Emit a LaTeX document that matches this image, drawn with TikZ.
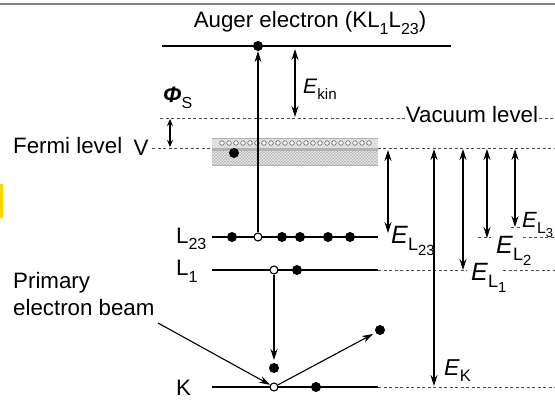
\documentclass[tikz,border=0pt]{standalone}
\usepackage{fontspec}
\setmainfont{Liberation Sans}
\usetikzlibrary{arrows.meta,patterns}
\newcommand\Elab[3]{\fontsize{#1}{#1}\selectfont\textit{E}\raisebox{-0.3em}{\fontsize{0.72\dimexpr#1pt\relax}{10}\selectfont #2\raisebox{-0.25em}{\fontsize{0.82\dimexpr 0.72\dimexpr#1pt\relax\relax}{10}\selectfont #3}}}
\newcommand\sub[1]{\raisebox{-0.3em}{\fontsize{16}{16}\selectfont #1}}
\begin{document}
\begin{tikzpicture}[x=1pt,y=-1pt,
  level/.style={line width=2.4pt},
  dline/.style={gray!60!black, dash pattern=on 3pt off 2.5pt, line width=0.8pt},
  arr/.style={-{Stealth[length=11pt,width=7pt]}, line width=1.1pt},
  darr/.style={{Stealth[length=11pt,width=7pt]}-{Stealth[length=11pt,width=7pt]}, line width=1.1pt},
  sdarr/.style={{Stealth[length=7pt,width=6pt]}-{Stealth[length=7pt,width=6pt]}, line width=1.1pt},
  edot/.style={circle, fill, inner sep=0, minimum size=10pt},
  hdot/.style={circle, draw, fill=white, line width=1.1pt, inner sep=0, minimum size=8pt},
  lbl/.style={font=\fontsize{22.3}{26}\selectfont, inner sep=0}]
\useasboundingbox (0,0) rectangle (555,400);
% frame bits
\draw[gray, line width=1.3pt] (0,4) -- (555,4);
\fill[yellow!75!orange] (0,184) rectangle (2.5,218);

% Auger level
\coordinate (augL) at (162,46);
\coordinate (augR) at (451,46);
\draw[level] (augL) -- (augR);
\node[edot] (adot) at (258,46) {};
\node[lbl] (augtxt) at (310,23) {Auger electron (KL\sub{1}L\sub{23})};

% vacuum level
\coordinate (vac0) at (160,118);
\coordinate (vac1) at (405,118);
\coordinate (vac2) at (539,118);
\coordinate (vac3) at (555,118);
\draw[dline] (vac0) -- (vac1);
\node[lbl] (vactxt) at (472,115) {Vacuum level};
\draw[dline] (vac2) -- (vac3);

% Fermi level
\coordinate (fer0) at (152,148);
\coordinate (fer1) at (555,148);
\draw[dline] (fer0) -- (fer1);
\node[lbl, anchor=west] (fermitxt) at (13,146) {Fermi level};
\node[lbl] (vtxt) at (141,148) {V};

% valence band
\fill[gray!60] (212,138) rectangle (378,166);
\fill[gray!25] (212,139) rectangle (378,147.5);
\foreach \x in {222,229,...,372} \draw[gray!60!black, fill=white, line width=0.5pt] (\x,143) circle (2.3);
\fill[pattern=crosshatch, pattern color=white!85!gray] (212,151) rectangle (378,164);
\draw[gray!60, line width=0.8pt] (212,138) -- (378,138);
\node[edot] (vdot) at (234,153) {};

% Phi_S
\coordinate (phiA) at (170,119);
\coordinate (phiB) at (170,147);
\draw[sdarr] (phiA) -- (phiB);
\node[lbl, anchor=west] (phitxt) at (163,98) {\textbf{\textit{Φ}}\sub{S}};

% core levels
\coordinate (l23a) at (212,237); \coordinate (l23b) at (378,237);
\coordinate (l1a) at (212,270);  \coordinate (l1b) at (378,270);
\coordinate (ka) at (212,387);   \coordinate (kb) at (378,387);
\draw[level] (l23a) -- (l23b);
\draw[level] (l1a) -- (l1b);
\draw[level] (ka) -- (kb);
\node[lbl, anchor=west] (l23txt) at (176,239) {L\sub{23}};
\node[lbl, anchor=west] (l1txt) at (176,271) {L\sub{1}};
\node[lbl, anchor=west] (ktxt) at (176,388) {K};

% electrons L23
\node[edot] (e1) at (232,237) {};
\node[hdot] (l23o) at (258,237) {};
\node[edot] (e2) at (282,237) {};
\node[edot] (e3) at (300,237) {};
\node[edot] (e4) at (328,237) {};
\node[edot] (e5) at (350,237) {};
% L1
\node[hdot] (l1o) at (274,270) {};
\node[edot] (e6) at (297,270) {};
% K
\node[edot] (e7) at (316,387) {};
\node[edot] (kfill) at (274,368) {};
\node[hdot] (ko) at (274,387) {};
\node[edot] (out) at (380,330) {};

% dashed extensions
\coordinate (d1a) at (378,270); \coordinate (d1b) at (467,270);
\coordinate (d1c) at (503,270); \coordinate (d1d) at (555,270);
\draw[dline] (d1a) -- (d1b);
\draw[dline] (d1c) -- (d1d);
\coordinate (dka) at (378,387); \coordinate (dkb) at (555,387);
\draw[dline] (dka) -- (dkb);
\coordinate (dl2a) at (478,237); \coordinate (dl2b) at (491,237);
\draw[dline] (dl2a) -- (dl2b);
\coordinate (dl3a) at (511,227); \coordinate (dl3b) at (521,227);
\draw[dline] (dl3a) -- (dl3b);
\coordinate (dl3c) at (523,237); \coordinate (dl3d) at (555,237);
\draw[dline] (dl3c) -- (dl3d);

% Auger transition arrows
\draw[arr] (l23o) -- (adot);
\coordinate (kinA) at (295,49); \coordinate (kinB) at (295,117);
\draw[darr] (kinA) -- (kinB);
\node[anchor=base west, inner sep=0] (kintxt) at (303,93) {\Elab{21}{kin}{}};
\coordinate (l1drop) at (274,360);
\draw[arr] (l1o) -- (l1drop);

% primary beam
\node[lbl, anchor=north west, align=left] (beamtxt) at (13,272) {Primary\\[1pt]electron beam};
\coordinate (beam0) at (158,323);
\draw[arr] (beam0) -- (ko);
\coordinate (outtip) at (373,334);
\draw[arr] (ko) -- (outtip);

% binding energies
\coordinate (eL23a) at (388,150); \coordinate (eL23b) at (388,233);
\draw[darr] (eL23a) -- (eL23b);
\node[anchor=base west, inner sep=0] (eL23txt) at (391,243) {\Elab{25}{L}{23}};
\coordinate (eKa) at (434,149); \coordinate (eKb) at (434,386);
\draw[darr] (eKa) -- (eKb);
\node[anchor=base west, inner sep=0] (eKtxt) at (444,375) {\Elab{23}{K}{}};
\coordinate (eL1a) at (463,149); \coordinate (eL1b) at (463,270);
\draw[darr] (eL1a) -- (eL1b);
\node[anchor=base west, inner sep=0] (eL1txt) at (471,280) {\Elab{25}{L}{1}};
\coordinate (eL2a) at (487,149); \coordinate (eL2b) at (487,238);
\draw[darr] (eL2a) -- (eL2b);
\node[anchor=base west, inner sep=0] (eL2txt) at (496,253) {\Elab{25}{L}{2}};
\coordinate (eL3a) at (515,149); \coordinate (eL3b) at (515,227);
\draw[darr] (eL3a) -- (eL3b);
\node[anchor=base west, inner sep=0] (eL3txt) at (522,227) {\Elab{22}{L}{3}};
\end{tikzpicture}
\end{document}
